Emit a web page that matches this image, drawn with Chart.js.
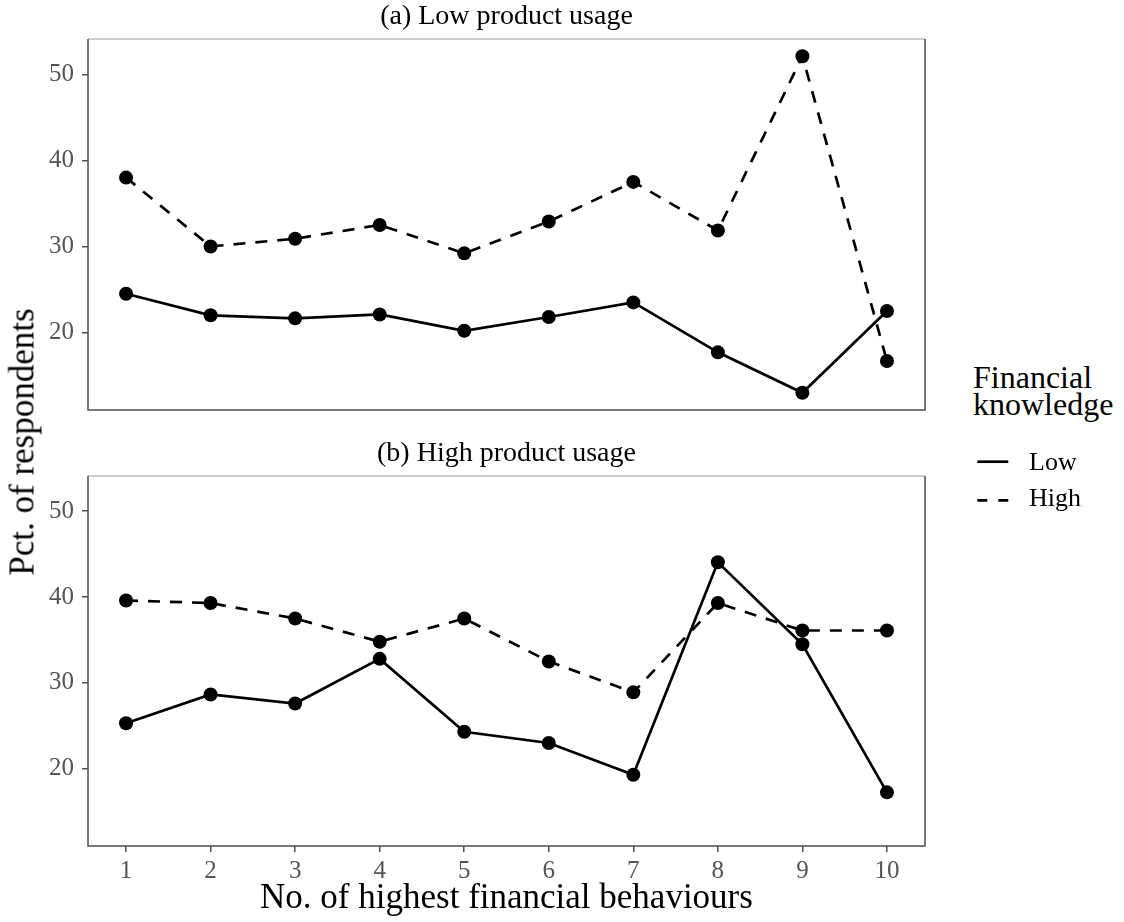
<!DOCTYPE html>
<html>
<head>
<meta charset="utf-8">
<script src="https://cdn.jsdelivr.net/npm/chart.js@4.4.1/dist/chart.umd.min.js"></script>
<style>
  html, body { margin:0; padding:0; background:#fff; }
  body { width:1124px; height:922px; position:relative; overflow:hidden; font-family:"Liberation Serif", serif; color:#000; }
  canvas { position:absolute; left:0; }
  .t { position:absolute; white-space:nowrap; line-height:1; }
</style>
</head>
<body>
<canvas id="c1" width="940" height="420" style="top:0px;width:940px;height:420px"></canvas>
<canvas id="c2" width="940" height="482" style="top:440px;width:940px;height:482px"></canvas>

<div class="t" style="font-size:28px;left:0;width:1013px;text-align:center;top:0.5px;">(a) Low product usage</div>
<div class="t" style="font-size:28px;left:0;width:1013px;text-align:center;top:437.5px;">(b) High product usage</div>
<div class="t" style="font-size:35px;left:0;width:1013px;text-align:center;top:878.7px;">No. of highest financial behaviours</div>
<div class="t" style="font-size:35px;left:22px;top:442px;transform:translate(-50%,-50%) rotate(-90deg);">Pct. of respondents</div>

<div class="t" style="font-size:32px;left:973px;top:361px;">Financial</div>
<div class="t" style="font-size:32px;left:973px;top:388px;">knowledge</div>
<svg style="position:absolute;left:970px;top:445px" width="50" height="70">
  <line x1="7.3" y1="16.7" x2="38.3" y2="16.7" stroke="#000" stroke-width="2.7"/>
  <line x1="7.3" y1="55.3" x2="38.3" y2="55.3" stroke="#000" stroke-width="2.7" stroke-dasharray="10 11"/>
</svg>
<div class="t" style="font-size:26px;left:1029px;top:449.2px;">Low</div>
<div class="t" style="font-size:26px;left:1029px;top:485.2px;">High</div>

<script>
// ---- data ----
const behaviours = [1, 2, 3, 4, 5, 6, 7, 8, 9, 10];
const yTickValues = [20, 30, 40, 50];
const seriesNames = ["Low", "High"];
// (a) Low product usage
const lowUsage_lowKnowledge  = [24.5, 22.0, 21.65, 22.1, 20.2, 21.8, 23.5, 17.7, 13.0, 22.5];
const lowUsage_highKnowledge = [38.0, 30.0, 30.9, 32.5, 29.2, 32.9, 37.5, 31.85, 52.1, 16.7];
// (b) High product usage
const highUsage_lowKnowledge  = [25.3, 28.65, 27.6, 32.8, 24.3, 23.0, 19.3, 44.05, 34.5, 17.25];
const highUsage_highKnowledge = [39.6, 39.3, 37.5, 34.8, 37.5, 32.5, 28.9, 39.3, 36.1, 36.1];

const Y_MIN = 11.0, Y_MAX = 54.1, X_MIN = 0.55, X_MAX = 10.45;
const FONT = "Liberation Serif";
const AXIS_GREY = "#4d4d4d";
const TICK_TEXT = "#555555";

const borderPlugin = {
  id: 'panelBorder',
  afterDraw(chart) {
    const a = chart.chartArea, ctx = chart.ctx;
    ctx.save();
    ctx.lineWidth = 1.5;
    ctx.strokeStyle = "#bdbdbd";
    ctx.beginPath(); ctx.moveTo(a.left, a.top); ctx.lineTo(a.right, a.top); ctx.stroke();
    ctx.strokeStyle = AXIS_GREY;
    ctx.beginPath();
    ctx.moveTo(a.left, a.top); ctx.lineTo(a.left, a.bottom);
    ctx.lineTo(a.right, a.bottom); ctx.lineTo(a.right, a.top);
    ctx.stroke();
    ctx.restore();
  }
};

function toPoints(vals) { return behaviours.map((x, i) => ({ x: x, y: vals[i] })); }

function ds(label, vals, dashed) {
  return {
    label: label,
    data: toPoints(vals),
    borderColor: "#000",
    backgroundColor: "#000",
    borderWidth: 2.7,
    borderDash: dashed ? [12, 10] : [],
    pointRadius: 7,
    pointHoverRadius: 7,
    pointBorderWidth: 0,
    pointBackgroundColor: "#000",
    tension: 0,
    fill: false
  };
}

function makeChart(id, lowVals, highVals, showX, padTop, padBottom) {
  return new Chart(document.getElementById(id), {
    type: 'line',
    data: { datasets: [ds(seriesNames[0], lowVals, false), ds(seriesNames[1], highVals, true)] },
    options: {
      responsive: false,
      animation: false,
      devicePixelRatio: 1,
      layout: { padding: { left: 0, right: 15, top: padTop, bottom: padBottom } },
      plugins: { legend: { display: false }, tooltip: { enabled: false } },
      scales: {
        x: {
          type: 'linear', min: X_MIN, max: X_MAX, display: showX,
          afterBuildTicks: s => { s.ticks = behaviours.map(v => ({ value: v })); },
          afterFit: s => { if (showX) s.height = 76; s.paddingLeft = 0; s.paddingRight = 0; },
          ticks: { font: { family: FONT, size: 25 }, color: TICK_TEXT, padding: 4, maxRotation: 0, autoSkip: false },
          grid: { display: true, drawOnChartArea: false, drawTicks: true, tickLength: 6, color: AXIS_GREY, lineWidth: 1.5 },
          border: { display: false }
        },
        y: {
          type: 'linear', min: Y_MIN, max: Y_MAX, position: 'left',
          afterBuildTicks: s => { s.ticks = yTickValues.map(v => ({ value: v })); },
          afterFit: s => { s.width = 88; s.paddingTop = 0; s.paddingBottom = 0; },
          ticks: { font: { family: FONT, size: 25 }, color: TICK_TEXT, padding: 8 },
          grid: { display: true, drawOnChartArea: false, drawTicks: true, tickLength: 6, color: AXIS_GREY, lineWidth: 1.5 },
          border: { display: false }
        }
      }
    },
    plugins: [borderPlugin]
  });
}

makeChart('c1', lowUsage_lowKnowledge, lowUsage_highKnowledge, false, 39, 10);
makeChart('c2', highUsage_lowKnowledge, highUsage_highKnowledge, true, 36, 0);
</script>
</body>
</html>
